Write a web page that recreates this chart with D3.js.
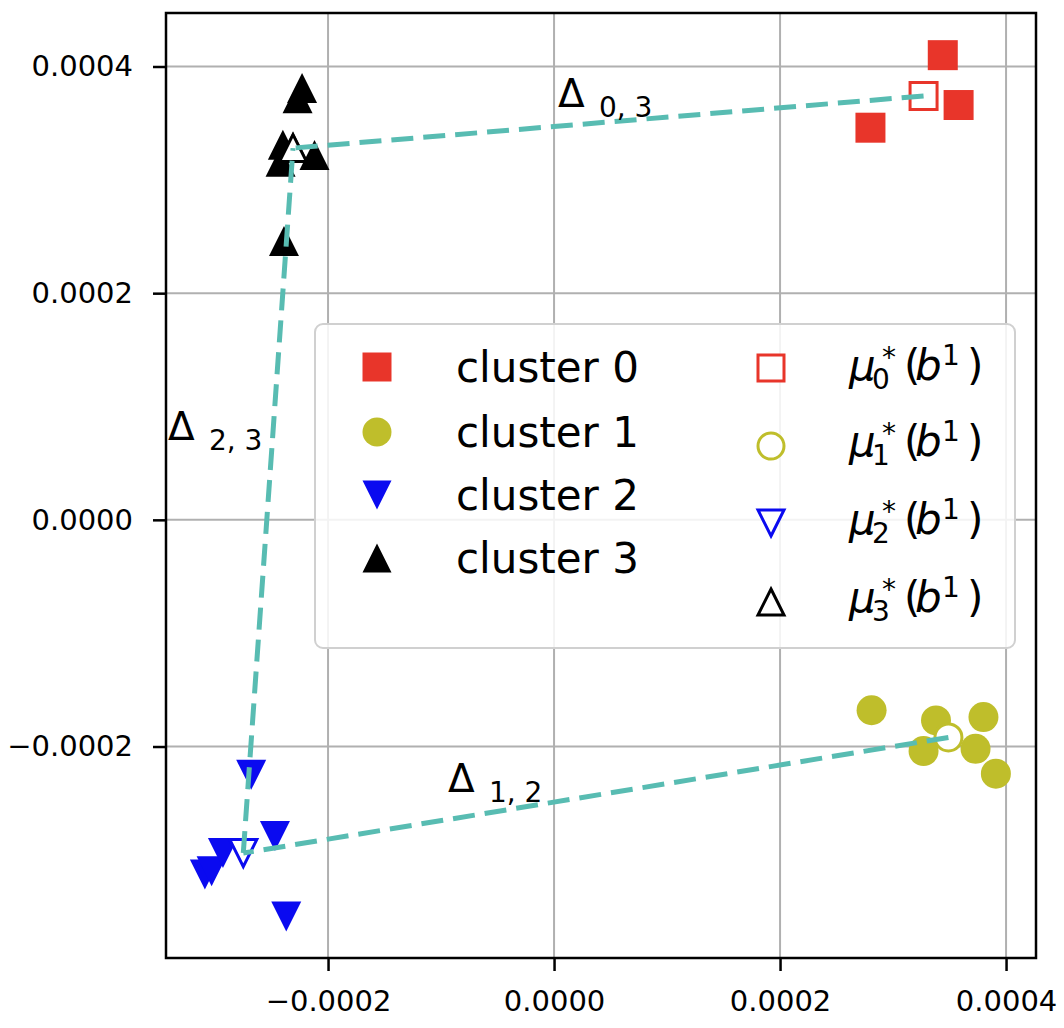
<!DOCTYPE html>
<html>
<head>
<meta charset="utf-8">
<script src="https://cdn.jsdelivr.net/npm/d3@7"></script>
<style>
  body { margin: 0; background: #fff; }
  text { font-family: "DejaVu Sans", sans-serif; fill: #000; }
</style>
</head>
<body>
<svg id="chart" width="1064" height="1028"></svg>
<script>
// points of each cluster, [x, y]
var cluster0 = [[0.000344, 0.000410], [0.000358, 0.000366], [0.000280, 0.000346]];
var cluster1 = [[0.000281, -0.000168], [0.000338, -0.000177], [0.000380, -0.000174],
                [0.000327, -0.000204], [0.000373, -0.000202], [0.000391, -0.000224]];
var cluster2 = [[-0.000309, -0.000313], [-0.000303, -0.000310], [-0.000293, -0.000294],
                [-0.000268, -0.000225], [-0.000247, -0.000279], [-0.000237, -0.000350]];
var cluster3 = [[-0.000223, 0.000381], [-0.000227, 0.000372], [-0.000240, 0.000331],
                [-0.000231, 0.000329], [-0.000212, 0.000322], [-0.000242, 0.000316],
                [-0.000239, 0.000246]];

// mu*_k(b^1)
var centerX = [0.000327, 0.000349, -0.000275, -0.000231];
var centerY = [0.000374, -0.000192, -0.000294, 0.000328];

// dashed links between centers
var links = [[0, 3, "0, 3"], [2, 3, "2, 3"], [1, 2, "1, 2"]];

var clusterNames = ["cluster 0", "cluster 1", "cluster 2", "cluster 3"];
var clusterColors = ["#e8352a", "#bfbe2b", "#0a0af0", "#000000"];
var clusterShapes = ["square", "circle", "down", "up"];
var clusterPoints = [cluster0, cluster1, cluster2, cluster3];

var xTicks = [-0.0002, 0.0000, 0.0002, 0.0004];
var yTicks = [-0.0002, 0.0000, 0.0002, 0.0004];

var svg = d3.select("#chart");
var plotLeft = 166, plotRight = 1036, plotTop = 13, plotBottom = 958;

var x = d3.scaleLinear().domain([-0.0003434, 0.0004265]).range([plotLeft, plotRight]);
var y = d3.scaleLinear().domain([-0.0003866, 0.0004472]).range([plotBottom, plotTop]);

function shapePath(shape, s) {
    var h = s / 2;
    if (shape == "square") return "M" + (-h) + "," + (-h) + "h" + s + "v" + s + "h" + (-s) + "Z";
    if (shape == "circle") return d3.symbol(d3.symbolCircle, Math.PI * h * h)();
    if (shape == "up") return "M0," + (-h) + "L" + h + "," + h + "L" + (-h) + "," + h + "Z";
    return "M0," + h + "L" + h + "," + (-h) + "L" + (-h) + "," + (-h) + "Z";
}

// grid
var grid = svg.append("g").attr("stroke", "#b0b0b0").attr("stroke-width", 2);
grid.selectAll(".gx").data(xTicks).enter().append("line")
    .attr("x1", function (d) { return x(d); }).attr("x2", function (d) { return x(d); })
    .attr("y1", plotTop).attr("y2", plotBottom);
grid.selectAll(".gy").data(yTicks).enter().append("line")
    .attr("y1", function (d) { return y(d); }).attr("y2", function (d) { return y(d); })
    .attr("x1", plotLeft).attr("x2", plotRight);

// cluster points
clusterPoints.forEach(function (pts, k) {
    svg.append("g").selectAll("path").data(pts).enter().append("path")
        .attr("d", shapePath(clusterShapes[k], 30))
        .attr("fill", clusterColors[k])
        .attr("transform", function (d) { return "translate(" + x(d[0]) + "," + y(d[1]) + ")"; });
});

// centers (open markers)
svg.append("g").selectAll("path").data(centerX).enter().append("path")
    .attr("d", function (d, k) { return shapePath(clusterShapes[k], 27); })
    .attr("fill", "#fff")
    .attr("stroke", function (d, k) { return clusterColors[k]; })
    .attr("stroke-width", 3)
    .attr("transform", function (d, k) { return "translate(" + x(d) + "," + y(centerY[k]) + ")"; });

// dashed links
svg.append("g").selectAll("line").data(links).enter().append("line")
    .attr("x1", function (d) { return x(centerX[d[0]]); })
    .attr("y1", function (d) { return y(centerY[d[0]]); })
    .attr("x2", function (d) { return x(centerX[d[1]]); })
    .attr("y2", function (d) { return y(centerY[d[1]]); })
    .attr("stroke", "#58bcb2").attr("stroke-width", 5)
    .attr("stroke-dasharray", "22,10");

// delta labels
var deltaPos = [[558, 107], [168, 440], [448, 792]];
links.forEach(function (l, i) {
    var t = svg.append("text").attr("x", deltaPos[i][0]).attr("y", deltaPos[i][1])
        .attr("font-size", 39);
    t.append("tspan").text("\u0394");
    t.append("tspan").attr("x", deltaPos[i][0] + 41).attr("y", deltaPos[i][1] + 10)
        .attr("font-size", 28).text(l[2]);
});

// axes
var fmt = d3.format(".4f");
var xAxis = svg.append("g").attr("transform", "translate(0," + plotBottom + ")")
    .call(d3.axisBottom(x).tickValues(xTicks).tickFormat(fmt).tickSize(13).tickPadding(19));
var yAxis = svg.append("g").attr("transform", "translate(" + plotLeft + ",0)")
    .call(d3.axisLeft(y).tickValues(yTicks).tickFormat(fmt).tickSize(13).tickPadding(20));
[xAxis, yAxis].forEach(function (a) {
    a.select(".domain").remove();
    a.selectAll(".tick line").attr("stroke", "#000").attr("stroke-width", 2.5);
    a.selectAll(".tick text").attr("font-size", 29).attr("font-family", "DejaVu Sans").attr("fill", "#000");
});

svg.append("rect").attr("x", plotLeft).attr("y", plotTop)
    .attr("width", plotRight - plotLeft).attr("height", plotBottom - plotTop)
    .attr("fill", "none").attr("stroke", "#000").attr("stroke-width", 2.5);

// legend
var legend = svg.append("g");
legend.append("rect").attr("x", 315).attr("y", 324).attr("width", 700).attr("height", 324)
    .attr("rx", 8).attr("fill", "#fff").attr("fill-opacity", 0.85)
    .attr("stroke", "#d0d0d0").attr("stroke-width", 2);

var rowMarkY = [367, 432, 495, 558];
var rowTextY = [382, 447, 510, 573];
clusterNames.forEach(function (name, k) {
    legend.append("path").attr("d", shapePath(clusterShapes[k], 29))
        .attr("fill", clusterColors[k])
        .attr("transform", "translate(377," + rowMarkY[k] + ")");
    legend.append("text").attr("x", 456).attr("y", rowTextY[k]).attr("font-size", 42).text(name);
});

var muMarkY = [368, 446, 523, 602];
var muBase = [380, 456, 534, 612];
centerX.forEach(function (d, k) {
    legend.append("path").attr("d", shapePath(clusterShapes[k], 26))
        .attr("fill", "#fff").attr("stroke", clusterColors[k]).attr("stroke-width", 3)
        .attr("transform", "translate(771," + muMarkY[k] + ")");
    var x0 = 849, b = muBase[k];
    // mu*_k(b^1) as one text, pieces placed like mathtext
    var t = legend.append("text").attr("x", x0).attr("y", b).attr("font-size", 42);
    t.append("tspan").attr("font-style", "italic").text("\u03bc");
    t.append("tspan").attr("x", x0 + 23).attr("y", b + 9).attr("font-size", 28).text(k);
    t.append("tspan").attr("x", x0 + 33).attr("y", b - 13).attr("font-size", 28).text("*");
    t.append("tspan").attr("x", x0 + 55).attr("y", b).text("(");
    t.append("tspan").attr("x", x0 + 66).attr("y", b).attr("font-style", "italic").text("b");
    t.append("tspan").attr("x", x0 + 93).attr("y", b - 15).attr("font-size", 28).text("1");
    t.append("tspan").attr("x", x0 + 118).attr("y", b).text(")");
});
</script>
</body>
</html>
